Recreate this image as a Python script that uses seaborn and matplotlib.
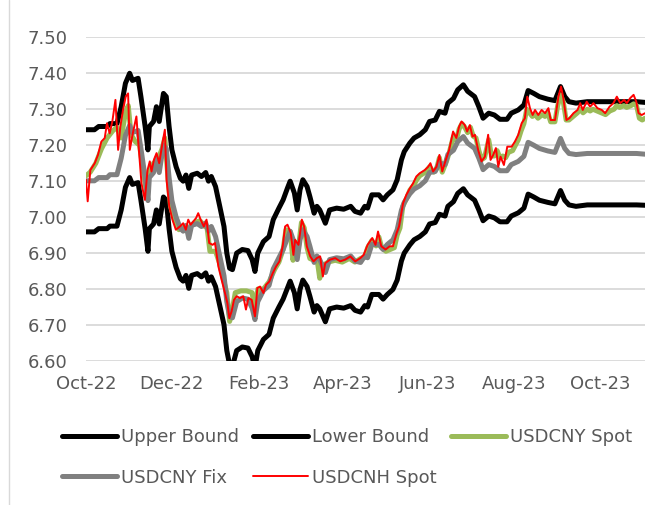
import numpy as np
import pandas as pd
import matplotlib
matplotlib.use("Agg")
import matplotlib.pyplot as plt
import matplotlib.dates as mdates
from matplotlib.lines import Line2D
import seaborn as sns

# ---------------- data (days since 2022-10-01) ----------------
bound_days = [0, 6, 9, 15, 17, 22, 25, 28, 31, 33, 37, 39, 42, 44, 45, 48, 50, 52, 55, 57,
              59, 61, 64, 67, 69, 71, 73, 75, 79, 82, 85, 87, 89, 92, 95, 98, 100, 102, 104, 107,
              111, 115, 118, 120, 122, 126, 130, 133, 137, 140, 143, 145, 148, 150, 152, 154, 157, 159, 162, 164,
              166, 170, 173, 178, 183, 188, 191, 195, 198, 200, 203, 208, 211, 214, 218, 221, 224, 226, 230, 233,
              237, 241, 244, 248, 251, 255, 257, 261, 264, 268, 271, 276, 279, 282, 286, 290, 294, 299, 302, 307,
              311, 314, 318, 322, 328, 333, 337, 340, 343, 348, 356, 365, 375, 384, 391, 397]
upper_bound = [7.243, 7.243, 7.252, 7.252, 7.260, 7.260, 7.307, 7.372, 7.400, 7.380,
               7.386, 7.335, 7.252, 7.187, 7.252, 7.266, 7.307, 7.266, 7.344, 7.335,
               7.252, 7.187, 7.140, 7.108, 7.100, 7.117, 7.080, 7.117, 7.122, 7.113,
               7.124, 7.100, 7.113, 7.085, 7.030, 6.974, 6.900, 6.858, 6.854, 6.900,
               6.910, 6.907, 6.882, 6.849, 6.900, 6.932, 6.946, 6.993, 7.025, 7.048,
               7.080, 7.100, 7.067, 7.020, 7.076, 7.104, 7.085, 7.057, 7.011, 7.030,
               7.020, 6.983, 7.020, 7.025, 7.022, 7.030, 7.016, 7.011, 7.030, 7.025,
               7.062, 7.062, 7.048, 7.062, 7.076, 7.104, 7.159, 7.182, 7.206, 7.220,
               7.229, 7.243, 7.266, 7.270, 7.294, 7.289, 7.317, 7.330, 7.354, 7.368,
               7.350, 7.335, 7.307, 7.275, 7.289, 7.284, 7.272, 7.272, 7.289, 7.298,
               7.312, 7.352, 7.344, 7.335, 7.328, 7.324, 7.363, 7.335, 7.321, 7.317,
               7.321, 7.321, 7.321, 7.321, 7.321, 7.319]
usdcny_fix = [7.101, 7.101, 7.110, 7.110, 7.118, 7.118, 7.164, 7.227, 7.255, 7.235,
              7.241, 7.191, 7.110, 7.046, 7.110, 7.124, 7.164, 7.124, 7.200, 7.191,
              7.110, 7.046, 7.000, 6.969, 6.961, 6.977, 6.941, 6.977, 6.982, 6.974,
              6.984, 6.961, 6.974, 6.946, 6.892, 6.837, 6.765, 6.724, 6.720, 6.765,
              6.775, 6.772, 6.747, 6.715, 6.765, 6.796, 6.810, 6.856, 6.887, 6.910,
              6.941, 6.961, 6.928, 6.882, 6.937, 6.965, 6.946, 6.919, 6.874, 6.892,
              6.882, 6.846, 6.882, 6.887, 6.884, 6.892, 6.878, 6.874, 6.892, 6.887,
              6.924, 6.924, 6.910, 6.924, 6.937, 6.965, 7.019, 7.041, 7.065, 7.078,
              7.087, 7.101, 7.124, 7.127, 7.151, 7.146, 7.174, 7.186, 7.210, 7.224,
              7.206, 7.191, 7.164, 7.132, 7.146, 7.141, 7.129, 7.129, 7.146, 7.155,
              7.169, 7.208, 7.200, 7.191, 7.184, 7.180, 7.219, 7.191, 7.177, 7.174,
              7.177, 7.177, 7.177, 7.177, 7.177, 7.175]
lower_bound = [6.959, 6.959, 6.968, 6.968, 6.975, 6.975, 7.020, 7.083, 7.110, 7.091,
               7.096, 7.047, 6.968, 6.905, 6.968, 6.981, 7.020, 6.981, 7.056, 7.047,
               6.968, 6.905, 6.860, 6.829, 6.822, 6.838, 6.802, 6.838, 6.843, 6.834,
               6.845, 6.822, 6.834, 6.807, 6.754, 6.701, 6.629, 6.589, 6.585, 6.629,
               6.639, 6.636, 6.612, 6.580, 6.629, 6.660, 6.674, 6.719, 6.750, 6.772,
               6.802, 6.822, 6.790, 6.745, 6.799, 6.825, 6.807, 6.780, 6.736, 6.754,
               6.745, 6.709, 6.745, 6.750, 6.747, 6.754, 6.741, 6.736, 6.754, 6.750,
               6.785, 6.785, 6.772, 6.785, 6.799, 6.825, 6.878, 6.900, 6.923, 6.937,
               6.946, 6.959, 6.981, 6.985, 7.008, 7.003, 7.030, 7.043, 7.066, 7.079,
               7.062, 7.047, 7.020, 6.990, 7.003, 6.998, 6.987, 6.987, 7.003, 7.012,
               7.025, 7.064, 7.056, 7.047, 7.041, 7.037, 7.074, 7.047, 7.034, 7.030,
               7.034, 7.034, 7.034, 7.034, 7.034, 7.033]

spot_days = [0, 3, 7, 11, 15, 19, 22, 25, 28, 30, 32, 35, 38, 41, 43, 45, 48, 51, 54, 56,
             58, 60, 63, 66, 70, 73, 77, 81, 84, 86, 88, 92, 95, 98, 100, 102, 104, 106, 110, 114,
             118, 120, 122, 126, 130, 134, 137, 140, 142, 145, 147, 149, 151, 153, 155, 157, 159, 162, 164, 166,
             168, 172, 177, 182, 187, 191, 195, 198, 200, 203, 206, 208, 210, 213, 216, 219, 221, 223, 225, 228,
             230, 233, 235, 237, 241, 244, 247, 249, 251, 253, 256, 258, 261, 263, 265, 267, 269, 271, 273, 275,
             277, 279, 281, 283, 286, 288, 290, 292, 294, 296, 298, 300, 303, 305, 307, 309, 311, 313, 315, 317,
             319, 321, 324, 326, 328, 330, 333, 335, 337, 339, 341, 343, 346, 349, 351, 353, 356, 358, 360, 363,
             366, 369, 372, 375, 377, 379, 382, 384, 387, 389, 391, 393, 395, 397]
usdcny_spot = [7.115, 7.125, 7.15, 7.19, 7.22, 7.24, 7.25, 7.22, 7.29, 7.31,
               7.23, 7.21, 7.20, 7.12, 7.07, 7.13, 7.15, 7.16, 7.19, 7.22,
               7.12, 7.03, 6.99, 6.965, 6.975, 6.97, 6.985, 6.99, 6.975, 6.97,
               6.905, 6.905, 6.87, 6.82, 6.79, 6.71, 6.745, 6.79, 6.795, 6.795,
               6.79, 6.73, 6.80, 6.80, 6.82, 6.855, 6.875, 6.91, 6.965, 6.96,
               6.88, 6.93, 6.92, 6.985, 6.97, 6.915, 6.885, 6.88, 6.885, 6.83,
               6.865, 6.875, 6.88, 6.875, 6.885, 6.875, 6.885, 6.89, 6.915, 6.935,
               6.92, 6.945, 6.915, 6.905, 6.91, 6.915, 6.95, 6.97, 7.03, 7.055,
               7.075, 7.09, 7.105, 7.115, 7.125, 7.14, 7.125, 7.135, 7.165, 7.125,
               7.155, 7.18, 7.225, 7.215, 7.245, 7.26, 7.25, 7.235, 7.25, 7.225,
               7.22, 7.185, 7.16, 7.165, 7.215, 7.17, 7.17, 7.185, 7.165, 7.17,
               7.165, 7.18, 7.185, 7.20, 7.215, 7.24, 7.26, 7.30, 7.29, 7.28,
               7.285, 7.275, 7.285, 7.28, 7.29, 7.265, 7.265, 7.31, 7.34, 7.32,
               7.27, 7.27, 7.28, 7.29, 7.30, 7.29, 7.30, 7.295, 7.30, 7.295,
               7.29, 7.285, 7.295, 7.30, 7.31, 7.305, 7.31, 7.305, 7.31, 7.315,
               7.31, 7.275, 7.27, 7.275]

cnh_days = [0, 1.2, 3.1, 6.2, 8.5, 10.9, 13.3, 14.9, 16.8, 18.7, 20.9, 22.8, 24.4, 26.3, 28.2, 29.9, 31.1, 33.5, 35.8, 37,
            39.4, 41.8, 43.7, 45.3, 46.5, 48.2, 50.1, 52, 54.3, 56, 57.2, 59.1, 61.4, 63.8, 66.7, 69, 70.9, 72.6, 74.3, 76.2,
            78.1, 79.7, 81.4, 83.7, 85.6, 87.5, 89.9, 91.6, 94, 96.3, 98.7, 100.4, 101.8, 103.4, 105.1, 107, 109.4, 111.7, 113.6, 115.3,
            117.7, 120, 121.7, 123.6, 126, 127.9, 130.2, 132.6, 135, 137.4, 139.7, 141.4, 143.1, 145.4, 147.3, 148.5, 150.9, 153.3, 154.9, 156.8,
            159.2, 161.6, 163.9, 166.3, 168.2, 169.9, 173.4, 177, 180.5, 184.1, 187.7, 191.2, 194.8, 197.2,
            200, 203.3, 205.6, 207.4, 209.7, 212.8, 215.7, 218, 220.6, 222.3, 225.2, 227.5, 230, 232.3, 234.6, 237, 240.6, 243, 244.6, 246.5,
            248.9, 251, 253, 255.5, 257.9, 260.7, 263, 265, 266.7, 269, 270.7, 272.6, 274.5, 276.2, 278.5, 280.9, 283.3, 285.6, 287.3, 289.2,
            291.1, 292.8, 294.4, 296.8, 299.2, 302.3, 304.6, 307, 309.4, 311.7, 313.4, 315.3, 317.2, 318.9, 321.2, 323.6, 326, 328.4, 330, 333.1,
            335.5, 337.4, 339, 341.2, 343.3, 346.2, 349.1, 351, 352.8, 355.6, 358, 360.4, 363.2, 366.3, 368.7, 371.8, 374.6, 377, 379.4, 382.2,
            384.1, 386.5, 388.9, 390.8, 392.4, 394.7, 397]
usdcnh_spot = [7.104, 7.044, 7.131, 7.150, 7.173, 7.210, 7.220, 7.261, 7.233, 7.266,
               7.326, 7.187, 7.252, 7.298, 7.335, 7.344, 7.187, 7.238, 7.280, 7.215,
               7.094, 7.048, 7.131, 7.155, 7.127, 7.159, 7.178, 7.150, 7.206, 7.243,
               7.104, 7.030, 6.993, 6.965, 6.974, 6.983, 6.965, 6.993, 6.979, 6.988,
               6.997, 7.011, 6.993, 6.974, 6.993, 6.928, 6.923, 6.928, 6.863, 6.826,
               6.789, 6.761, 6.719, 6.738, 6.770, 6.780, 6.775, 6.780, 6.743, 6.775,
               6.770, 6.724, 6.803, 6.807, 6.789, 6.812, 6.821, 6.844, 6.863, 6.877,
               6.919, 6.974, 6.979, 6.956, 6.895, 6.937, 6.923, 6.993, 6.974, 6.919,
               6.891, 6.877, 6.886, 6.891, 6.835, 6.872, 6.882, 6.886, 6.877, 6.882,
               6.891, 6.877, 6.886, 6.895,
               6.923, 6.942, 6.923, 6.960, 6.919, 6.910, 6.919, 6.919, 6.956, 6.974,
               7.039, 7.062, 7.080, 7.094, 7.113, 7.122, 7.131, 7.140, 7.150, 7.127,
               7.140, 7.173, 7.127, 7.159, 7.187, 7.238, 7.220, 7.252, 7.266, 7.256,
               7.238, 7.256, 7.224, 7.229, 7.187, 7.155, 7.168, 7.229, 7.159, 7.173,
               7.192, 7.140, 7.168, 7.145, 7.196, 7.196, 7.210, 7.229, 7.261, 7.275,
               7.335, 7.303, 7.284, 7.298, 7.284, 7.298, 7.289, 7.303, 7.270, 7.270,
               7.335, 7.363, 7.331, 7.270, 7.275, 7.289, 7.298, 7.317, 7.298, 7.321,
               7.307, 7.317, 7.303, 7.298, 7.289, 7.307, 7.317, 7.335, 7.317, 7.326,
               7.317, 7.331, 7.340, 7.321, 7.289, 7.284, 7.289]

y_ticks = [6.60, 6.70, 6.80, 6.90, 7.00, 7.10, 7.20, 7.30, 7.40, 7.50]
x_tick_dates = ["2022-10-01", "2022-12-01", "2023-02-01", "2023-04-01",
                "2023-06-01", "2023-08-01", "2023-10-01"]
series_names = ["Upper Bound", "Lower Bound", "USDCNY Spot", "USDCNY Fix", "USDCNH Spot"]

# ---------------- drawing ----------------
sns.set_theme(style="white")
plt.rcParams["font.family"] = ["DejaVu Sans"]

base = pd.Timestamp("2022-10-01")


def to_dates(days):
    return base + pd.to_timedelta(np.asarray(days, dtype=float), unit="D")


W, H = 668, 505
fig = plt.figure(figsize=(W / 100, H / 100), dpi=100)
ax = fig.add_axes([86 / W, 1 - 361 / H, (645 - 86) / W, (361 - 37.3) / H])

specs = [
    (bound_days, upper_bound, "Upper Bound", "#000000", 3.6),
    (bound_days, lower_bound, "Lower Bound", "#000000", 3.6),
    (spot_days, usdcny_spot, "USDCNY Spot", "#9BBB59", 3.6),
    (bound_days, usdcny_fix, "USDCNY Fix", "#808080", 3.6),
    (cnh_days, usdcnh_spot, "USDCNH Spot", "#FF0000", 1.4),
]
handles = {}
for days, vals, name, col, lw in specs:
    n_before = len(ax.lines)
    sns.lineplot(x=to_dates(days), y=vals, ax=ax, color=col, linewidth=lw,
                 estimator=None, sort=False, legend=False)
    ln = ax.lines[n_before]
    ln.set_solid_joinstyle("round")
    ln.set_solid_capstyle("round")
    handles[name] = Line2D([], [], color=col, linewidth=lw, solid_capstyle="round")

ax.set_ylim(6.60, 7.50)
ax.set_xlim(base, base + pd.Timedelta(days=397))
ax.set_yticks(y_ticks)
ax.set_yticklabels([f"{v:.2f}" for v in y_ticks])
ax.set_xticks(pd.to_datetime(x_tick_dates))
ax.xaxis.set_major_formatter(mdates.DateFormatter("%b-%y"))
ax.yaxis.grid(True, color="#D9D9D9", linewidth=1.3)
ax.xaxis.grid(False)
ax.set_axisbelow(True)
for s in ax.spines.values():
    s.set_visible(False)
ax.tick_params(axis="both", length=0, labelsize=13, labelcolor="#595959")
ax.tick_params(axis="y", pad=13.5)
ax.tick_params(axis="x", pad=10)
ax.set_xlabel("")
ax.set_ylabel("")

# legend: row 1 = Upper, Lower, Spot ; row 2 = Fix, CNH
order = ["Upper Bound", "USDCNY Fix", "Lower Bound", "USDCNH Spot", "USDCNY Spot"]
fig.legend([handles[k] for k in order], order, ncol=3, frameon=False,
           loc="upper left", bbox_to_anchor=(62 / W, 1 - 428 / H),
           borderaxespad=0, borderpad=0, fontsize=13, labelcolor="#595959",
           handlelength=3.05, handletextpad=0.22, columnspacing=0.78,
           labelspacing=1.25)

# chart frame line on the left
fig.add_artist(Line2D([8.5 / W, 8.5 / W], [0, 1], color="#D9D9D9", linewidth=1.0,
                      transform=fig.transFigure))

fig.savefig("out.png", dpi=100)
